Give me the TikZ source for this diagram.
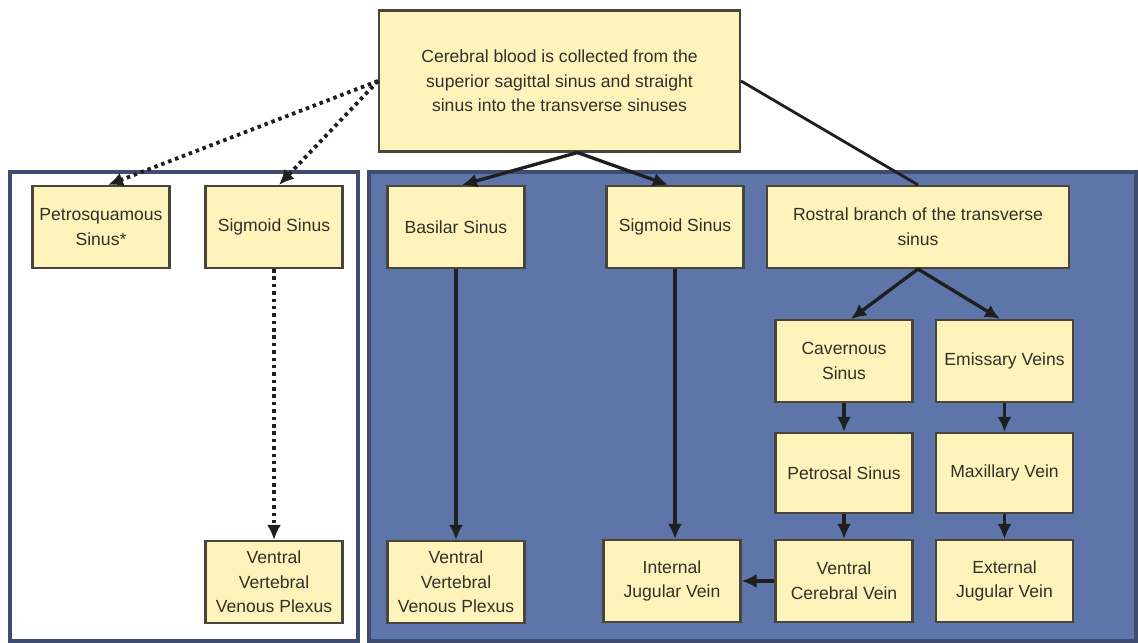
\documentclass[tikz,border=0pt]{standalone}
\usepackage{fontspec}
\setmainfont{Liberation Sans}
\usetikzlibrary{arrows.meta,calc}
\definecolor{SinusFill}{RGB}{255,243,188}
\definecolor{SinusLine}{RGB}{72,70,58}
\definecolor{SinusText}{RGB}{50,48,40}
\definecolor{PanelBlue}{RGB}{93,117,168}
\definecolor{PanelEdge}{RGB}{62,76,112}

\begin{document}
\begin{tikzpicture}[
    x=0.02cm, y=-0.02cm,
    box/.style={draw=SinusLine,line width=1.2pt,fill=SinusFill,text=SinusText,minimum width=2.74cm,minimum height=1.64cm,align=center,inner sep=2pt,font=\fontsize{10}{14}\selectfont},
    wide/.style={box,minimum width=6.04cm},
    head/.style={box,minimum width=7.22cm,minimum height=2.82cm},
    arr/.style={-{Latex[length=3mm,width=2.8mm]},line width=1.9pt,draw=black!88},
    dotarr/.style={arr,line width=2.2pt,dash pattern=on 2pt off 2.2pt},
    link/.style={line width=1.6pt,draw=black!88}
  ]
    \useasboundingbox (0,0) rectangle (1138,642);
    % panels
    \draw[PanelEdge,line width=1.8pt,fill=white] (10,172) rectangle (358,641);
    \draw[PanelEdge,line width=1.8pt,fill=PanelBlue] (369,172) rectangle (1136,641);

    \node[head] (top) at (559.5,81) {Cerebral blood is collected from the\\superior sagittal sinus and straight\\sinus into the transverse sinuses};

    % left panel
    \node[box] (petro) at (101,227) {Petrosquamous\\Sinus*};
    \node[box] (sigl) at (274,227) {Sigmoid Sinus};
    \node[box] (vvpl) at (274,582) {Ventral\\Vertebral\\Venous Plexus};

    % right panel
    \node[box] (basilar) at (456,227) {Basilar Sinus};
    \node[box] (sigr) at (675,227) {Sigmoid Sinus};
    \node[wide] (rostral) at (918,227) {Rostral branch of the transverse\\sinus};
    \node[box] (vvpr) at (456,582) {Ventral\\Vertebral\\Venous Plexus};
    \node[box] (ijv) at (672,581) {Internal\\Jugular Vein};
    \node[box] (cav) at (844,361) {Cavernous\\Sinus};
    \node[box] (emi) at (1004.5,361) {Emissary Veins};
    \node[box,minimum height=1.6cm] (petrosal) at (844,473) {Petrosal Sinus};
    \node[box,minimum height=1.6cm] (maxi) at (1004.5,473) {Maxillary Vein};
    \node[box] (vcv) at (844,581) {Ventral\\Cerebral Vein};
    \node[box] (ejv) at (1004.5,581) {External\\Jugular Vein};

    % connectors
    \draw[dotarr] (top.west) -- ([xshift=0.14cm]petro.north);
    \draw[dotarr] (top.west) -- ([xshift=0.1cm]sigl.north);
    \draw[dotarr] (sigl) -- (vvpl);
    \draw[arr] ([xshift=0.36cm]top.south) -- ([xshift=0.12cm]basilar.north);
    \draw[arr] ([xshift=0.36cm]top.south) -- ([xshift=-0.14cm]sigr.north);
    \draw[link] (top.east) -- (rostral.north);
    \draw[arr] (basilar) -- (vvpr);
    \draw[arr] (sigr.south) -- (sigr.south |- ijv.north);
    \draw[arr] (rostral.south) -- ([xshift=0.14cm]cav.north);
    \draw[arr] (rostral.south) -- ([xshift=-0.09cm]emi.north);
    \draw[arr] (cav) -- (petrosal);
    \draw[arr] (petrosal) -- (vcv);
    \draw[arr] (emi) -- (maxi);
    \draw[arr] (maxi) -- (ejv);
    \draw[arr] (vcv) -- (ijv);
  \end{tikzpicture}
\end{document}
